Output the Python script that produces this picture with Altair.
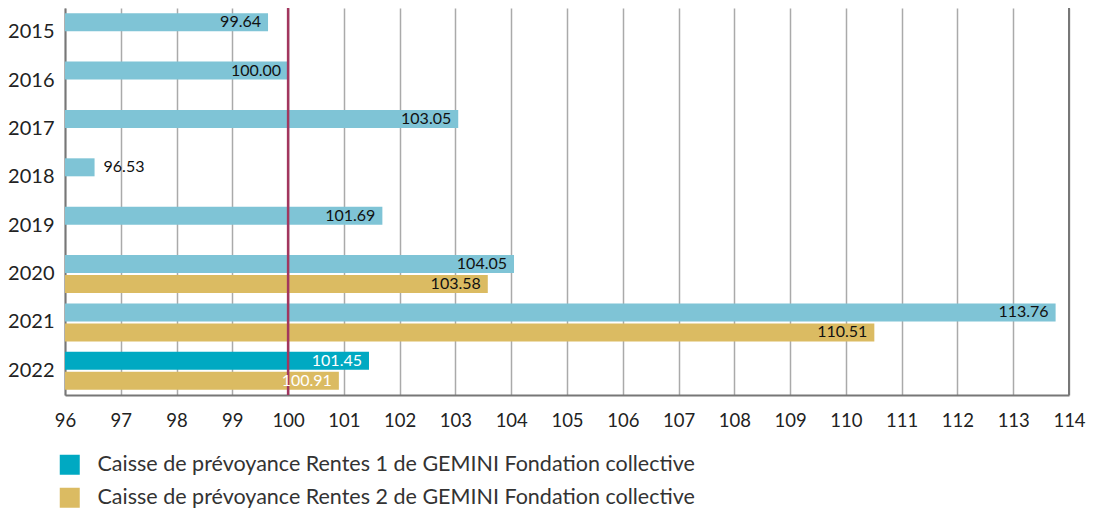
import altair as alt
import pandas as pd

years = ["2015", "2016", "2017", "2018", "2019", "2020", "2021", "2022"]
rentes1 = [99.64, 100.00, 103.05, 96.53, 101.69, 104.05, 113.76, 101.45]
rentes2 = [None, None, None, None, None, 103.58, 110.51, 100.91]
series_names = [
    "Caisse de prévoyance Rentes 1 de GEMINI Fondation collective",
    "Caisse de prévoyance Rentes 2 de GEMINI Fondation collective",
]
x_min, x_max, ref_value = 96, 114, 100

rows = []
for y, a, b in zip(years, rentes1, rentes2):
    rows.append({"year": y, "series": series_names[0], "value": a})
    if b is not None:
        rows.append({"year": y, "series": series_names[1], "value": b})
df = pd.DataFrame(rows)

FONT = "Lato"
LIGHT_BLUE = "#7FC4D6"
TEAL = "#00A9C2"
GOLD = "#DBBB62"

y_enc = alt.Y("year:N", sort=years, title=None,
              scale=alt.Scale(paddingInner=0, paddingOuter=0),
              axis=alt.Axis(labelFontSize=20, labelColor="#222", labelFont=FONT,
                            ticks=False, domainColor="#777", domainWidth=2,
                            labelPadding=11, grid=False))
yoff = alt.YOffset("series:N", sort=series_names,
                   scale=alt.Scale(domain=series_names, paddingInner=0.1, paddingOuter=0.26))
x_scale = alt.Scale(domain=[x_min, x_max], zero=False, nice=False)

base = alt.Chart(df)

bars = base.mark_bar().encode(
    x=alt.X("value:Q", scale=x_scale, title=None,
            axis=alt.Axis(values=list(range(x_min, x_max + 1)), format="d",
                          labelFontSize=18.5, labelColor="#222", labelFont=FONT,
                          ticks=False, domainColor="#777", domainWidth=2,
                          grid=True, gridColor="#aaa", gridWidth=1.5,
                          labelPadding=16, labelFlush=False)),
    x2=alt.datum(x_min),
    y=y_enc,
    yOffset=yoff,
    color=alt.condition(
        f"datum.year != '2022' && datum.series == '{series_names[0]}'",
        alt.value(LIGHT_BLUE),
        alt.Color("series:N", scale=alt.Scale(domain=series_names, range=[TEAL, GOLD]),
                  legend=alt.Legend(title=None, orient="none", legendX=-6, legendY=446,
                                    symbolType="square", symbolSize=400, symbolStrokeWidth=0,
                                    labelFontSize=21.5, labelFont=FONT, labelColor="#333",
                                    labelLimit=900, rowPadding=10, labelOffset=17,
                                    padding=0, direction="vertical")),
    ),
)

ref = alt.Chart(pd.DataFrame({"v": [ref_value]})).mark_rule(
    color="#A2365E", strokeWidth=2.5).encode(x=alt.X("v:Q", scale=x_scale))
right = alt.Chart(pd.DataFrame({"v": [x_max]})).mark_rule(
    color="#777", strokeWidth=2).encode(x=alt.X("v:Q", scale=x_scale))

text_color = alt.condition("datum.year == '2022'", alt.value("white"), alt.value("#111"))

inside = base.transform_filter("datum.value >= 98").mark_text(
    align="right", baseline="middle", dx=-7, fontSize=16, font=FONT).encode(
    x=alt.X("value:Q", scale=x_scale), y=alt.Y("year:N", sort=years), yOffset=yoff,
    text=alt.Text("value:Q", format=".2f"), color=text_color)

outside = base.transform_filter("datum.value < 98").mark_text(
    align="left", baseline="middle", dx=9, fontSize=16, font=FONT).encode(
    x=alt.X("value:Q", scale=x_scale), y=alt.Y("year:N", sort=years), yOffset=yoff,
    text=alt.Text("value:Q", format=".2f"), color=text_color)

chart = alt.layer(bars, ref, right, inside, outside).properties(
    width=1004, height=387,
    autosize=alt.AutoSizeParams(type="none"),
    padding={"left": 57, "top": 0, "right": 17, "bottom": 115},
).configure_view(stroke=None)

chart.save("out.html", embed_options={"renderer": "svg", "actions": False})
